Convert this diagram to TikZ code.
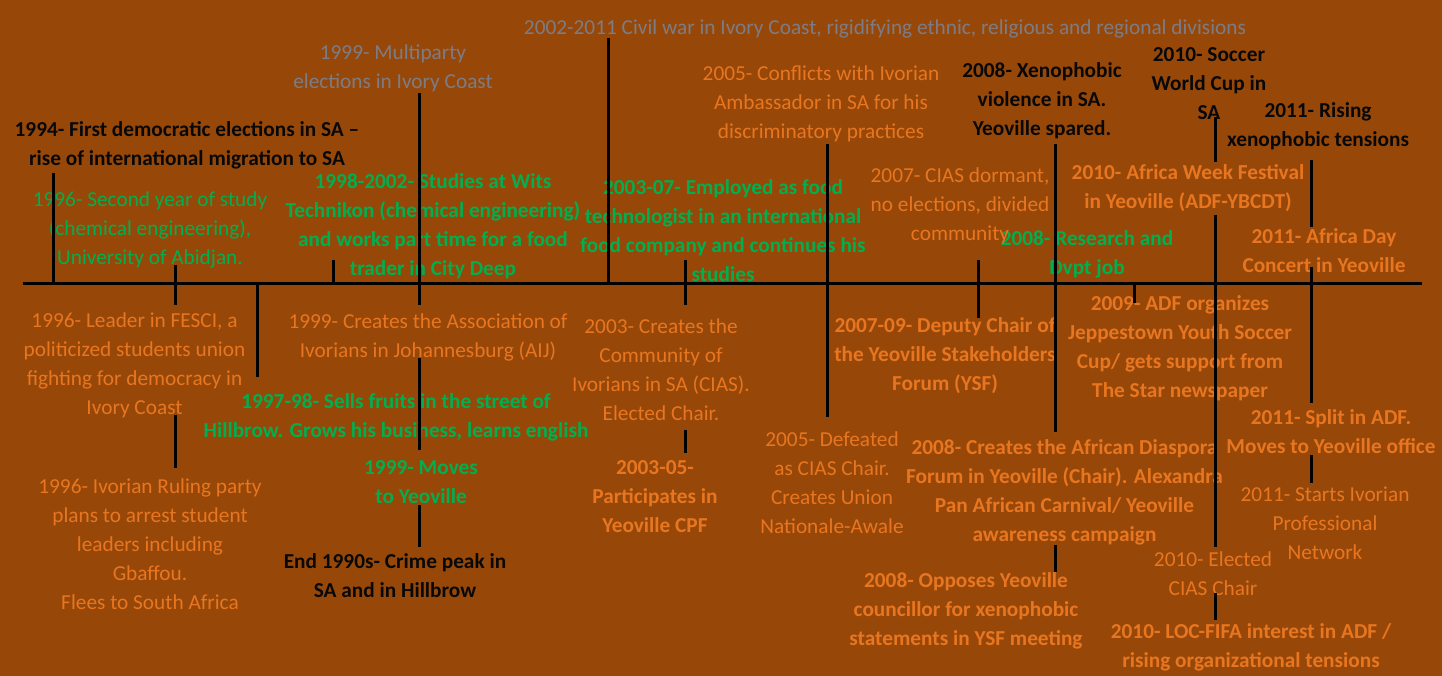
\documentclass[tikz,border=0pt]{standalone}
\usepackage{fontspec}
\setmainfont{Carlito}
\definecolor{bgc}{RGB}{151,72,8}
\definecolor{orc}{RGB}{232,118,32}
\definecolor{grc}{RGB}{0,175,80}
\definecolor{gyc}{RGB}{124,124,134}
\definecolor{bkc}{RGB}{8,8,8}
\tikzset{
  lbl/.style={align=center, inner sep=0pt, yshift=-2pt, font=\fontsize{21.3}{29}\selectfont},
  og/.style={lbl, text=orc},
  ob/.style={lbl, text=orc, font=\fontsize{21.3}{29}\selectfont\bfseries},
  gb/.style={lbl, text=grc, font=\fontsize{21.3}{29}\selectfont\bfseries},
  gn/.style={lbl, text=grc},
  gy/.style={lbl, text=gyc},
  bk/.style={lbl, text=bkc, font=\fontsize{21.3}{29}\selectfont\bfseries},
  tick/.style={draw=black, line width=3pt},
}
\begin{document}
\begin{tikzpicture}[x=1pt, y=-1pt]
\fill[bgc] (0,0) rectangle (1442,676);
\useasboundingbox (0,0) rectangle (1442,676);
% gray
\node[gy] (multi) at (393,66) {1999- Multiparty\\elections in Ivory Coast};
\node[gy] (civil) at (885,27) {2002-2011 Civil war in Ivory Coast, rigidifying ethnic, religious and regional divisions};
% black
\node[bk] (e94) at (187,143) {1994- First democratic elections in SA --\\rise of international migration to SA};
\node[bk] (xeno) at (1042,99) {2008- Xenophobic\\violence in SA.\\Yeoville spared.};
\node[bk] (cup) at (1209,81.5) {2010- Soccer\\World Cup in\\SA};
\node[bk] (rising) at (1318,124.5) {2011- Rising\\xenophobic tensions};
\node[bk] (crime) at (395,574) {End 1990s- Crime peak in\\SA and in Hillbrow};
% green
\node[gb] (wits) at (433,224) {1998-2002- Studies at Wits\\Technikon (chemical engineering)\\and works part time for a food\\trader in City Deep};
\node[gb] (food) at (723,229) {2003-07- Employed as food\\technologist in an international\\food company and continues his\\studies};
\node[gb] (rnd) at (1087,252) {2008- Research and\\Dvpt job};
\node[gb] (fruit) at (396,415) {1997-98- Sells fruits in the street of\\Hillbrow. Grows his business, learns english};
\node[gb] (moves) at (421,480) {1999- Moves\\to Yeoville};
\node[gn] (study) at (150,228) {1996- Second year of study\\(chemical engineering),\\University of Abidjan.};
% orange normal
\node[og] (ambass) at (821,102) {2005- Conflicts with Ivorian\\Ambassador in SA for his\\discriminatory practices};
\node[og] (dormant) at (960,204) {2007- CIAS dormant,\\no elections, divided\\community};
\node[og] (fesci) at (134.5,363.5) {1996- Leader in FESCI, a\\politicized students union\\fighting for democracy in\\Ivory Coast};
\node[og] (ruling) at (150,542) {1996- Ivorian Ruling party\\plans to arrest student\\leaders including\\Gbaffou.\\Flees to South Africa};
\node[og] (aij) at (428,335.5) {1999- Creates the Association of\\Ivorians in Johannesburg (AIJ)};
\node[og] (cias) at (661,367.5) {2003- Creates the\\Community of\\Ivorians in SA (CIAS).\\Elected Chair.};
\node[og] (defeat) at (832,480.5) {2005- Defeated\\as CIAS Chair.\\Creates Union\\Nationale-Awale};
\node[og] (elected) at (1213,571.5) {2010- Elected\\CIAS Chair};
\node[og] (network) at (1325,521) {2011- Starts Ivorian\\Professional\\Network};
% orange bold
\node[ob] (week) at (1188,186.5) {2010- Africa Week Festival\\in Yeoville (ADF-YBCDT)};
\node[ob] (day) at (1324,248.5) {2011- Africa Day\\Concert in Yeoville};
\node[ob] (ysf) at (945,354) {2007-09- Deputy Chair of\\the Yeoville Stakeholders\\Forum (YSF)};
\node[ob] (jepp) at (1180,346.5) {2009- ADF organizes\\Jeppestown Youth Soccer\\Cup/ gets support from\\The Star newspaper};
\node[ob] (split) at (1331,429.5) {2011- Split in ADF.\\Moves to Yeoville office};
\node[ob] (adf) at (1064.5,490) {2008- Creates the African Diaspora\\Forum in Yeoville (Chair). Alexandra\\Pan African Carnival/ Yeoville\\awareness campaign};
\node[ob] (oppose) at (966,609) {2008- Opposes Yeoville\\councillor for xenophobic\\statements in YSF meeting};
\node[ob] (cpf) at (655,494.5) {2003-05-\\Participates in\\Yeoville CPF};
\node[ob] (loc) at (1251,645.5) {2010- LOC-FIFA interest in ADF /\\rising organizational tensions};
% axis
\coordinate (axL) at (23,283);
\coordinate (axR) at (1422,283);
\draw[tick] (axL) -- (axR);
% ticks
\foreach \n/\x/\ya/\yb in {a/53/173/283, b/175/265/305, c/175/415/468, d/257/283/377, e/333/260/283, f/419/93/305, g/419/358/450, h/419/505/547, i/608/38/283, j/685/260/305, k/685/430/453, l/827/144/417, m/978/260/318, n/1055/144/432, o/1055/545/572, p/1134/283/303, q/1215/117/162, r/1215/215/547, s/1215/593/620, t/1311/160/227, u/1311/267/403, v/1311/455/483} {
  \coordinate (\n1) at (\x,\ya);
  \coordinate (\n2) at (\x,\yb);
  \draw[tick] (\n1) -- (\n2);
}
\end{tikzpicture}
\end{document}
